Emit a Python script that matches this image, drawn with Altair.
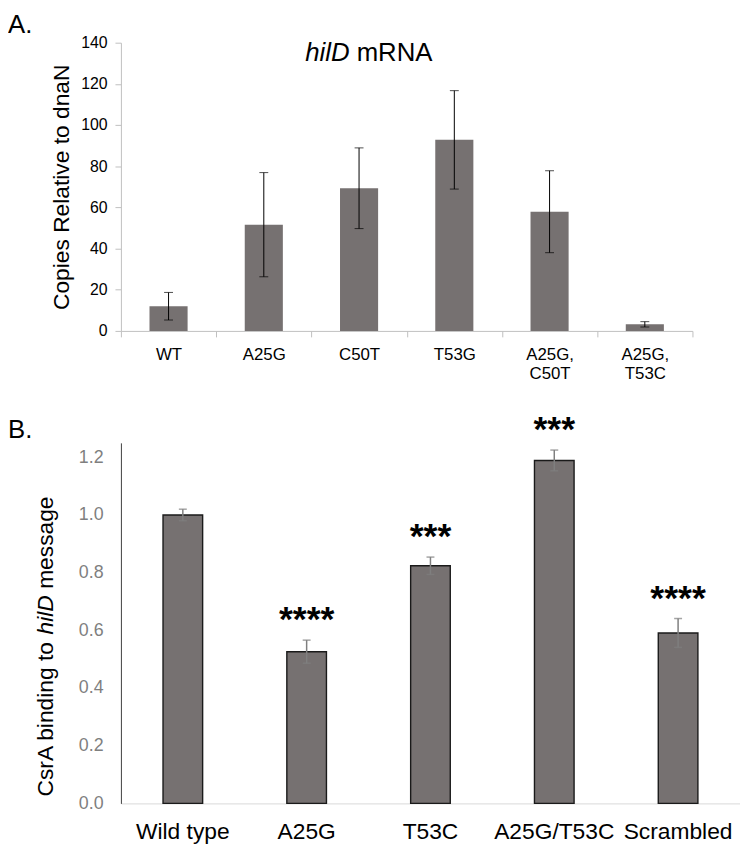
import altair as alt
import pandas as pd

FONT = "Liberation Sans"

# ---------------- Panel A data ----------------
a_categories = ["WT", "A25G", "C50T", "T53G", "A25G,|C50T", "A25G,|T53C"]
a_means = [12.0, 51.6, 69.3, 92.8, 57.9, 3.2]
a_errors = [6.7, 25.3, 19.6, 23.9, 19.9, 1.3]
a_ticks = [0, 20, 40, 60, 80, 100, 120, 140]

# ---------------- Panel B data ----------------
b_categories = ["Wild type", "A25G", "T53C", "A25G/T53C", "Scrambled"]
b_means = [1.00, 0.526, 0.824, 1.189, 0.591]
b_errors = [0.02, 0.04, 0.03, 0.036, 0.05]
b_stars = ["", "****", "***", "***", "****"]
b_ticks = [0.0, 0.2, 0.4, 0.6, 0.8, 1.0, 1.2]

BAR = "#767171"

dfA = pd.DataFrame({"cat": a_categories, "mean": a_means, "err": a_errors})
dfA["lo"] = dfA["mean"] - dfA["err"]
dfA["hi"] = dfA["mean"] + dfA["err"]

dfB = pd.DataFrame({"cat": b_categories, "mean": b_means, "err": b_errors, "star": b_stars})
dfB["lo"] = dfB["mean"] - dfB["err"]
dfB["hi"] = dfB["mean"] + dfB["err"]

# ---------------- Panel A ----------------
axisXA = alt.Axis(
    title=None, labelAngle=0, labelExpr="split(datum.label, '|')",
    labelFont=FONT, labelFontSize=17, labelColor="black", labelLineHeight=19,
    labelPadding=10, tickSize=6, tickColor="#bfbfbf", tickBand="extent",
    domainColor="#bfbfbf", grid=False,
)
axisYA = alt.Axis(
    title="Copies Relative to dnaN", values=a_ticks, titleFont=FONT,
    titleFontSize=23, titleFontWeight="normal", titleColor="black", titlePadding=7,
    labelFont=FONT, labelFontSize=16, labelColor="black", labelPadding=8,
    tickSize=6, tickColor="#bfbfbf", domainColor="#bfbfbf", grid=False,
)
xA = alt.X("cat:N", sort=a_categories, scale=alt.Scale(paddingInner=0, paddingOuter=0), axis=axisXA)
scaleYA = alt.Scale(domain=[0, 140], nice=False)
TA = "Copies Relative to dnaN"

baseA = alt.Chart(dfA)
barsA = baseA.mark_bar(width=alt.RelativeBandSize(0.4), color=BAR).encode(
    x=xA, y=alt.Y("mean:Q", scale=scaleYA, axis=axisYA, title=TA))
ruleA = baseA.mark_rule(color="black", strokeWidth=1).encode(
    x=xA, y=alt.Y("lo:Q", scale=scaleYA, axis=axisYA, title=TA), y2="hi:Q")
capLoA = baseA.mark_tick(color="black", thickness=1, size=9).encode(
    x=xA, y=alt.Y("lo:Q", scale=scaleYA, axis=axisYA, title=TA))
capHiA = baseA.mark_tick(color="black", thickness=1, size=9).encode(
    x=xA, y=alt.Y("hi:Q", scale=scaleYA, axis=axisYA, title=TA))

labA = alt.Chart(pd.DataFrame({"t": ["A."]})).mark_text(
    font=FONT, fontSize=26, align="left", baseline="top", color="black").encode(
    x=alt.value(-114), y=alt.value(-31), text="t:N")
titleA1 = alt.Chart(pd.DataFrame({"t": ["hilD"]})).mark_text(
    font=FONT, fontSize=26, fontStyle="italic", align="left", baseline="alphabetic", color="black").encode(
    x=alt.value(186), y=alt.value(18), text="t:N")
titleA2 = alt.Chart(pd.DataFrame({"t": ["mRNA"]})).mark_text(
    font=FONT, fontSize=26, align="left", baseline="alphabetic", color="black").encode(
    x=alt.value(238), y=alt.value(18), text="t:N")

panelA = alt.layer(barsA, ruleA, capLoA, capHiA, labA, titleA1, titleA2).properties(width=577, height=291)

# ---------------- Panel B ----------------
axisXB = alt.Axis(
    title=None, labelAngle=0, labelFont=FONT, labelFontSize=23, labelColor="black",
    labelPadding=17, ticks=False, tickSize=0, domainColor="#d9d9d9", grid=False,
)
axisYB = alt.Axis(
    title=None, values=b_ticks, format=".1f", labelFont=FONT, labelFontSize=18,
    labelColor="#7f7f7f", labelPadding=18, ticks=False, tickSize=0,
    domainColor="#404040", grid=False,
)
xB = alt.X("cat:N", sort=b_categories, scale=alt.Scale(paddingInner=0, paddingOuter=0), axis=axisXB)
scaleYB = alt.Scale(domain=[0, 1.25], nice=False)

baseB = alt.Chart(dfB)
barsB = baseB.mark_bar(width=alt.RelativeBandSize(0.32), color=BAR, stroke="#1a1a1a", strokeWidth=1.4).encode(
    x=xB, y=alt.Y("mean:Q", scale=scaleYB, axis=axisYB, title=None))
ruleB = baseB.mark_rule(color="#7f7f7f", strokeWidth=1.5).encode(
    x=xB, y=alt.Y("lo:Q", scale=scaleYB, axis=axisYB, title=None), y2="hi:Q")
capLoB = baseB.mark_tick(color="#7f7f7f", thickness=1.5, size=8).encode(
    x=xB, y=alt.Y("lo:Q", scale=scaleYB, axis=axisYB, title=None))
capHiB = baseB.mark_tick(color="#7f7f7f", thickness=1.5, size=8).encode(
    x=xB, y=alt.Y("hi:Q", scale=scaleYB, axis=axisYB, title=None))
starsB = baseB.mark_text(font=FONT, fontSize=36, fontWeight="bold", baseline="alphabetic", dy=-9, color="black").encode(
    x=xB, y=alt.Y("hi:Q", scale=scaleYB, axis=axisYB, title=None), text="star:N")

labB = alt.Chart(pd.DataFrame({"t": ["B."]})).mark_text(
    font=FONT, fontSize=26, align="left", baseline="alphabetic", color="black").encode(
    x=alt.value(-114), y=alt.value(-5), text="t:N")
ytB1 = alt.Chart(pd.DataFrame({"t": ["CsrA binding to"]})).mark_text(
    font=FONT, fontSize=23, angle=270, align="left", baseline="alphabetic", color="black").encode(
    x=alt.value(-69), y=alt.value(357), text="t:N")
ytB2 = alt.Chart(pd.DataFrame({"t": ["hilD"]})).mark_text(
    font=FONT, fontSize=23, fontStyle="italic", angle=270, align="left", baseline="alphabetic", color="black").encode(
    x=alt.value(-69), y=alt.value(193.4), text="t:N")
ytB3 = alt.Chart(pd.DataFrame({"t": ["message"]})).mark_text(
    font=FONT, fontSize=23, angle=270, align="left", baseline="alphabetic", color="black").encode(
    x=alt.value(-69), y=alt.value(147.4), text="t:N")

panelB = alt.layer(barsB, ruleB, capLoB, capHiB, starsB, labB, ytB1, ytB2, ytB3).properties(width=625, height=364)

chart = alt.vconcat(panelA, panelB, spacing=31).properties(padding=0).configure(
    font=FONT).configure_view(stroke=None)

chart.save("out.html", embed_options={"renderer": "svg", "actions": False})
